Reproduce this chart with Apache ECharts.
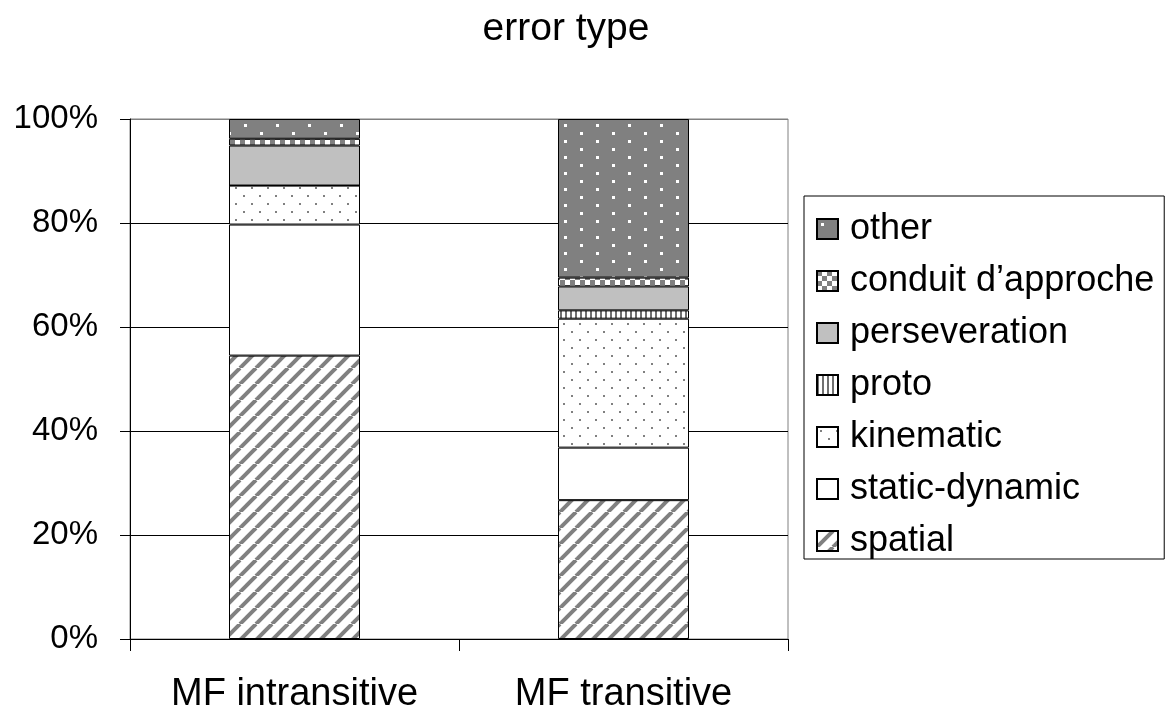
<!DOCTYPE html>
<html><head><meta charset="utf-8">
<script src="https://cdn.jsdelivr.net/npm/echarts@6/dist/echarts.min.js"></script>
<style>html,body{margin:0;padding:0;background:#fff}#c{width:1168px;height:716px}</style>
</head><body><div id="c"></div>
<script>
const categories = ['MF intransitive', 'MF transitive'];
const seriesNames = ['spatial', 'static-dynamic', 'kinematic', 'proto', 'perseveration', 'conduit d\u2019approche', 'other'];
const spatial = [54.5, 26.7];
const staticDynamic = [25.2, 10.1];
const kinematic = [7.5, 24.8];
const proto = [0, 1.6];
const perseveration = [7.7, 4.6];
const conduit = [1.3, 1.7];
const other = [3.8, 30.5];
const yTickValues = [0, 20, 40, 60, 80, 100];

const FONT = '"Liberation Sans", Arial, sans-serif';

function pat(w, h, draw) {
  const c = document.createElement('canvas');
  c.width = w; c.height = h;
  const g = c.getContext('2d');
  draw(g, w, h);
  return { image: c, repeat: 'repeat' };
}
const fills = [
  pat(16, 16, (g) => { g.fillStyle = '#fff'; g.fillRect(0,0,16,16); g.strokeStyle = '#808080'; g.lineWidth = 4;
    for (const o of [-16, 0, 16]) { g.beginPath(); g.moveTo(o, 16); g.lineTo(o + 16, 0); g.stroke(); } }),
  '#ffffff',
  pat(16, 16, (g) => { g.fillStyle = '#fff'; g.fillRect(0,0,16,16); g.fillStyle = '#808080'; g.fillRect(3,3,2,2); g.fillRect(11,11,2,2); }),
  pat(5, 5, (g) => { g.fillStyle = '#fff'; g.fillRect(0,0,5,5); g.fillStyle = '#707070'; g.fillRect(0,0,2,5); }),
  '#c0c0c0',
  pat(10, 10, (g) => { g.fillStyle = '#fff'; g.fillRect(0,0,10,10); g.fillStyle = '#808080'; g.fillRect(0,0,5,5); g.fillRect(5,5,5,5); }),
  pat(32, 16, (g) => { g.fillStyle = '#808080'; g.fillRect(0,0,32,16); g.fillStyle = '#fff'; g.fillRect(4,4,3,3); g.fillRect(20,12,3,3); })
];
const dataSets = [spatial, staticDynamic, kinematic, proto, perseveration, conduit, other];

const series = seriesNames.map((name, i) => ({
  name, type: 'bar', stack: 'total', barWidth: 131,
  data: dataSets[i],
  itemStyle: { color: fills[i], borderColor: '#000', borderWidth: 1 },
  emphasis: { disabled: true },
  animation: false
}));

const chart = echarts.init(document.getElementById('c'), null, { renderer: 'canvas' });
chart.setOption({
  backgroundColor: '#fff',
  animation: false,
  title: {
    text: 'error type', left: 561, top: 5, textAlign: 'center',
    textStyle: { fontFamily: FONT, fontSize: 39, fontWeight: 'normal', color: '#000' }
  },
  legend: {
    data: seriesNames.slice().reverse(),
    orient: 'vertical', left: 804, top: 196,
    padding: [15, 10, 0, 12],
    itemWidth: 21, itemHeight: 20, itemGap: 16,
    borderColor: '#000', borderWidth: 1,
    icon: 'rect',
    selectedMode: false,
    textStyle: { fontFamily: FONT, fontSize: 36, color: '#000', lineHeight: 36, padding: [0, 0, 0, 7] }
  },
  grid: { left: 130, right: 380, top: 119, bottom: 77, show: true, borderColor: '#808080', borderWidth: 1, containLabel: false },
  xAxis: {
    type: 'category', data: categories,
    axisLine: { lineStyle: { color: '#000', width: 1 } },
    axisTick: { show: true, length: 12, lineStyle: { color: '#000' } },
    axisLabel: { fontFamily: FONT, fontSize: 38, color: '#000', margin: 37 }
  },
  yAxis: {
    type: 'value', min: 0, max: 100, interval: 20,
    axisLine: { show: true, lineStyle: { color: '#000', width: 1 } },
    axisTick: { show: true, length: 10, lineStyle: { color: '#000' } },
    axisLabel: { fontFamily: FONT, fontSize: 33, color: '#000', margin: 32, formatter: (v) => yTickValues.includes(v) ? v + '%' : '' },
    splitLine: { show: true, lineStyle: { color: ['#000', '#000', '#000', '#000', '#000', '#808080'], width: 1 } }
  },
  series
});
</script>
</body></html>
